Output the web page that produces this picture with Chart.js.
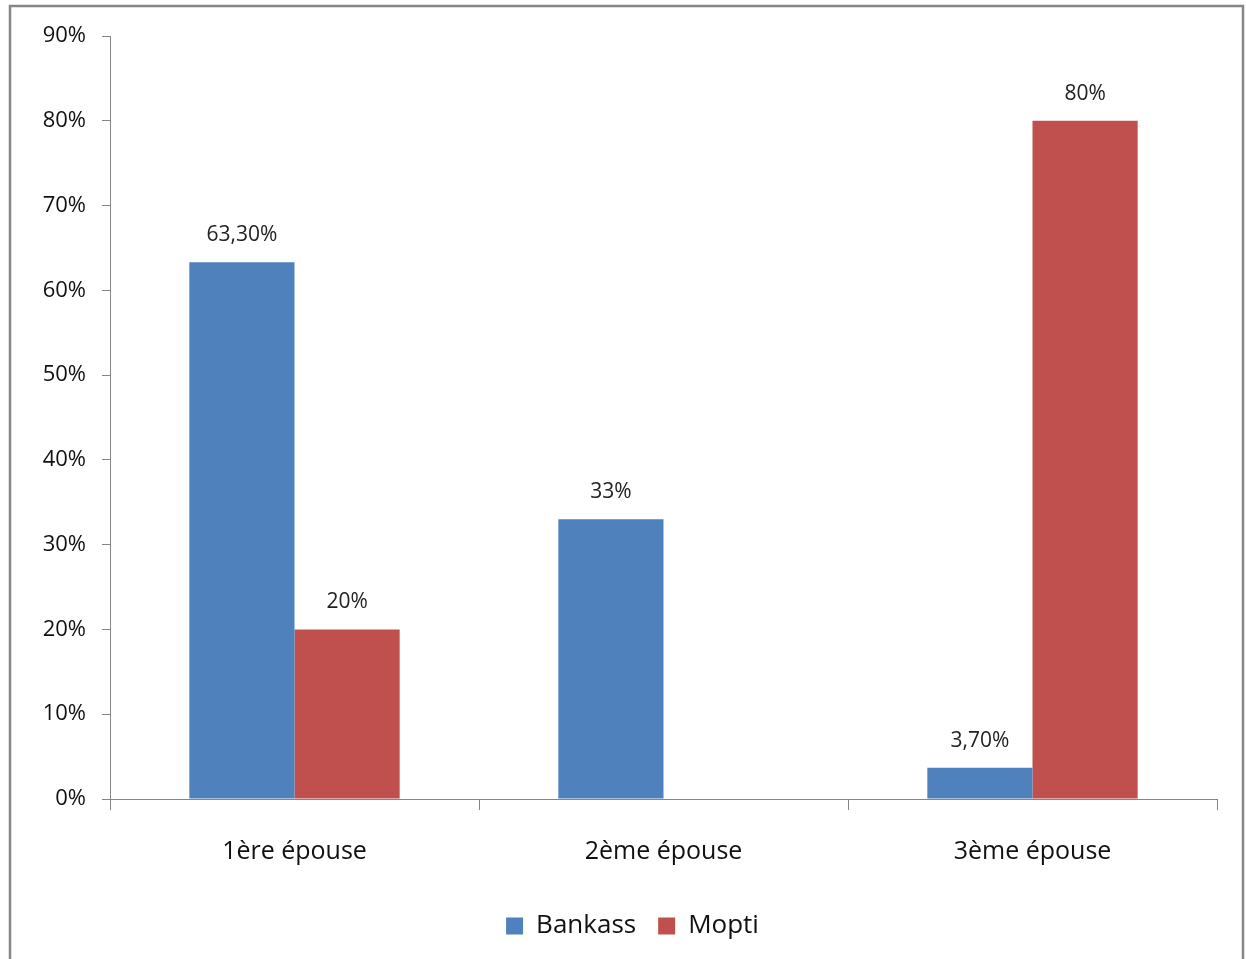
<!DOCTYPE html>
<html><head><meta charset="utf-8">
<script src="https://cdn.jsdelivr.net/npm/chart.js@4/dist/chart.umd.min.js"></script>
<style>html,body{margin:0;padding:0;background:#fff;}#wrap{width:1246px;height:959px;position:relative;}</style>
</head><body><div id="wrap"><canvas id="c" width="1246" height="959"></canvas></div>
<script>
const categories = ['1ère épouse', '2ème épouse', '3ème épouse'];
const seriesNames = ['Bankass', 'Mopti'];
const bankass = [63.3, 33, 3.7];
const mopti = [20, 0, 80];
const bankassLabels = ['63,30%', '33%', '3,70%'];
const moptiLabels = ['20%', '', '80%'];
const yTicks = [0,10,20,30,40,50,60,70,80,90];

const FONT = "'Open Sans', sans-serif";
const GRAY = '#868686';

const frame = {
  id: 'frame',
  afterLayout(chart) {
    if (chart.legend) { chart.legend.left += 24; chart.legend.right += 24; }
  },
  beforeDraw(chart) {
    const ctx = chart.ctx;
    ctx.save();
    ctx.fillStyle = '#fff';
    ctx.fillRect(0, 0, chart.width, chart.height);
    ctx.strokeStyle = GRAY;
    ctx.lineWidth = 2.5;
    ctx.strokeRect(10, 6, 1233, 960);
    ctx.restore();
  }
};
const valueLabels = {
  id: 'valueLabels',
  afterDatasetsDraw(chart) {
    const ctx = chart.ctx;
    ctx.save();
    ctx.font = '21px ' + FONT;
    ctx.fillStyle = '#222';
    ctx.textAlign = 'center';
    ctx.textBaseline = 'middle';
    chart.data.datasets.forEach((ds, i) => {
      const meta = chart.getDatasetMeta(i);
      meta.data.forEach((bar, j) => {
        const t = ds.valueLabels[j];
        if (!t) return;
        ctx.fillText(t, bar.x, bar.y - 27);
      });
    });
    ctx.restore();
  }
};

new Chart(document.getElementById('c'), {
  type: 'bar',
  data: {
    labels: categories,
    datasets: [
      { label: seriesNames[0], data: bankass, valueLabels: bankassLabels, backgroundColor: '#4F81BD' },
      { label: seriesNames[1], data: mopti, valueLabels: moptiLabels, backgroundColor: '#C0504D' }
    ]
  },
  options: {
    responsive: false,
    animation: false,
    devicePixelRatio: 1,
    categoryPercentage: 0.57,
    barPercentage: 1.0,
    layout: { padding: { top: 36, right: 29, left: 0, bottom: 10 } },
    plugins: {
      tooltip: { enabled: false },
      legend: {
        position: 'bottom',
        labels: {
          font: { size: 26, family: FONT },
          color: '#111',
          boxWidth: 17, boxHeight: 17,
          padding: 22
        }
      }
    },
    scales: {
      x: {
        offset: true,
        grid: { offset: true, drawOnChartArea: false, color: GRAY, tickLength: 11, tickWidth: 1 },
        border: { color: GRAY, width: 1 },
        ticks: { font: { size: 25, family: FONT }, color: '#111', padding: 27 },
        afterFit(s) { s.height = 92; }
      },
      y: {
        min: 0, max: 90,
        afterBuildTicks(s) { s.ticks = yTicks.map(v => ({ value: v })); },
        grid: { drawOnChartArea: false, color: GRAY, tickLength: 8 },
        border: { color: GRAY, width: 1 },
        ticks: { font: { size: 22, family: FONT }, color: '#111', padding: 16, callback: v => v + '%' },
        afterFit(s) { s.width = 110; }
      }
    }
  },
  plugins: [frame, valueLabels]
});
</script></body></html>
